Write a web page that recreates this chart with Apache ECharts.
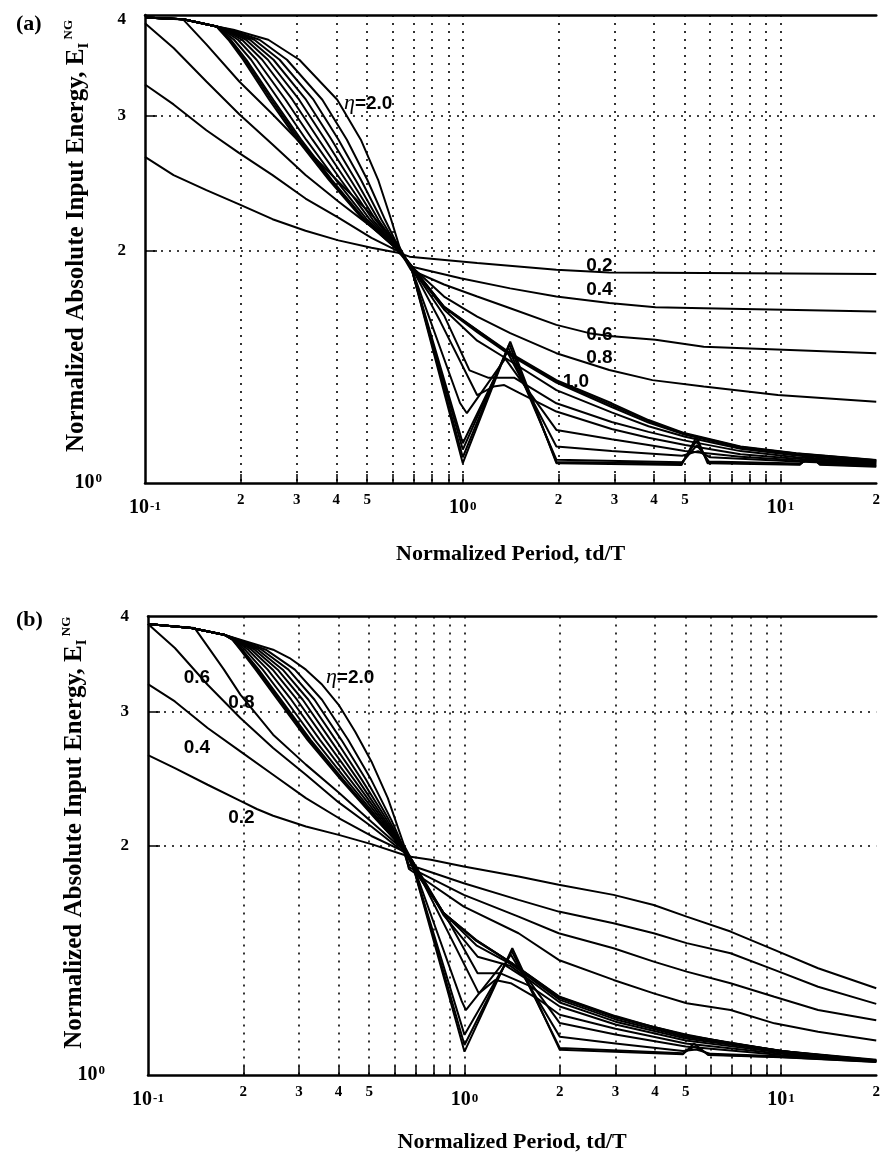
<!DOCTYPE html>
<html>
<head>
<meta charset="utf-8">
<script src="https://cdn.jsdelivr.net/npm/echarts@6/dist/echarts.min.js"></script>
<style>
  html, body { margin: 0; padding: 0; background: #fff; }
  #chart { width: 883px; height: 1158px; }
</style>
</head>
<body>
<div id="chart"></div>
<script>
// ---- axis ticks and labels ----
const xTickValues = [0.2, 0.3, 0.4, 0.5, 0.6, 0.7, 0.8, 0.9, 1, 2, 3, 4, 5, 6, 7, 8, 9, 10];
const xLabelValues = [0.1, 0.2, 0.3, 0.4, 0.5, 1, 2, 3, 4, 5, 10, 20];
const yTickValues = [2, 3];
const yLabelValues = [1, 2, 3, 4];

// ---- panel (a): normalized absolute input energy vs td/T, one curve per eta ----
const A_02 = [[0.1,2.65],[0.123,2.51],[0.156,2.40],[0.198,2.30],[0.252,2.20],[0.32,2.125],[0.406,2.065],[0.516,2.02],[0.625,1.99],[0.68,1.967],[1.11,1.93],[1.97,1.891],[2.89,1.876],[5.73,1.873],[20,1.868]];
const A_04 = [[0.1,3.29],[0.123,3.10],[0.156,2.87],[0.198,2.68],[0.252,2.51],[0.32,2.34],[0.406,2.21],[0.516,2.08],[0.625,2.00],[0.687,1.91],[0.984,1.844],[1.41,1.789],[1.97,1.746],[2.89,1.712],[4.04,1.691],[5.73,1.686],[20,1.669]];
const A_06 = [[0.1,3.95],[0.123,3.67],[0.156,3.32],[0.198,3.01],[0.252,2.75],[0.32,2.51],[0.406,2.32],[0.516,2.15],[0.625,2.02],[0.687,1.89],[0.873,1.81],[1.11,1.746],[1.41,1.686],[1.97,1.604],[2.5,1.565],[2.89,1.552],[4.04,1.534],[5.73,1.503],[20,1.474]];
const A_08 = [[0.1,4.02],[0.132,3.995],[0.156,3.71],[0.198,3.32],[0.252,3.01],[0.32,2.72],[0.406,2.46],[0.516,2.23],[0.625,2.04],[0.68,1.92],[0.873,1.746],[1.11,1.644],[1.41,1.565],[1.97,1.474],[2.89,1.402],[3.95,1.36],[5.73,1.334],[9.8,1.301],[20,1.275]];
const A_10 = [[0.1,4.02],[0.132,4.0],[0.168,3.914],[0.1713,3.876],[0.183,3.761],[0.2036,3.543],[0.246,3.144],[0.3014,2.79],[0.3789,2.475],[0.4863,2.196],[0.6389,1.99],[0.705,1.891],[0.873,1.694],[1.11,1.58],[1.41,1.474],[1.97,1.36],[2.94,1.269],[3.84,1.207],[5.01,1.16],[7.48,1.115],[11.2,1.093],[20,1.071]];
const A_11 = [[0.1,4.02],[0.132,4.0],[0.168,3.914],[0.1718,3.876],[0.1846,3.761],[0.2061,3.543],[0.2497,3.144],[0.3055,2.79],[0.383,2.475],[0.4891,2.196],[0.6389,1.99],[0.70,1.895],[0.873,1.692],[1.11,1.578],[1.41,1.47],[1.97,1.355],[2.94,1.262],[3.84,1.203],[5.01,1.158],[7.48,1.114],[11.2,1.092],[20,1.07]];
const A_12 = [[0.1,4.02],[0.132,4.0],[0.168,3.914],[0.1724,3.876],[0.1862,3.761],[0.2086,3.543],[0.2533,3.144],[0.3099,2.79],[0.3871,2.475],[0.4922,2.196],[0.6389,1.99],[0.70,1.90],[0.873,1.69],[1.11,1.57],[1.41,1.465],[1.97,1.35],[2.94,1.255],[3.84,1.198],[5.01,1.155],[7.48,1.112],[11.2,1.09],[20,1.068]];
const A_13 = [[0.1,4.02],[0.132,4.0],[0.168,3.914],[0.1738,3.876],[0.1905,3.761],[0.2157,3.543],[0.2635,3.144],[0.3215,2.79],[0.3984,2.475],[0.5001,2.196],[0.6389,1.99],[0.695,1.90],[0.873,1.68],[1.11,1.53],[1.41,1.44],[1.97,1.32],[2.94,1.235],[3.84,1.185],[5.01,1.148],[7.48,1.108],[11.2,1.086],[20,1.066]];
const A_14 = [[0.1,4.02],[0.132,4.0],[0.168,3.914],[0.1755,3.876],[0.1961,3.761],[0.2244,3.543],[0.2769,3.144],[0.3366,2.79],[0.413,2.475],[0.5106,2.196],[0.6394,1.99],[0.69,1.905],[0.873,1.65],[1.05,1.40],[1.2,1.37],[1.45,1.37],[1.97,1.269],[2.94,1.20],[3.84,1.165],[5.01,1.135],[7.48,1.10],[11.2,1.08],[20,1.064]];
const A_15 = [[0.1,4.02],[0.132,4.0],[0.168,3.914],[0.1774,3.876],[0.202,3.761],[0.2338,3.543],[0.291,3.144],[0.3524,2.79],[0.4278,2.475],[0.521,2.196],[0.6394,1.99],[0.69,1.905],[0.85,1.62],[1.11,1.30],[1.25,1.334],[1.35,1.34],[1.5,1.31],[1.97,1.238],[2.94,1.175],[3.84,1.145],[5.01,1.12],[7.48,1.09],[11.2,1.075],[20,1.062]];
const A_16 = [[0.1,4.02],[0.132,4.0],[0.168,3.914],[0.1792,3.876],[0.2079,3.761],[0.2436,3.543],[0.3055,3.144],[0.369,2.79],[0.4434,2.475],[0.5316,2.196],[0.6394,1.99],[0.687,1.908],[0.98,1.27],[1.03,1.232],[1.36,1.45],[1.97,1.172],[2.94,1.14],[3.84,1.12],[5.0,1.10],[7.48,1.082],[11.2,1.07],[20,1.059]];
const A_17 = [[0.1,4.02],[0.132,4.0],[0.168,3.914],[0.181,3.876],[0.2139,3.761],[0.2537,3.543],[0.321,3.144],[0.3866,2.79],[0.4596,2.475],[0.5423,2.196],[0.6398,1.99],[0.687,1.91],[1.0,1.126],[1.38,1.48],[1.97,1.115],[2.94,1.10],[4.9,1.085],[5.5,1.10],[6.0,1.08],[11.2,1.066],[20,1.057]];
const A_18 = [[0.1,4.02],[0.132,4.0],[0.168,3.914],[0.183,3.876],[0.2208,3.761],[0.2652,3.543],[0.339,3.144],[0.4064,2.79],[0.478,2.475],[0.5545,2.196],[0.6398,1.99],[0.687,1.91],[1.0,1.105],[1.39,1.50],[1.97,1.072],[4.9,1.064],[5.46,1.12],[5.95,1.066],[11.5,1.06],[12.4,1.076],[13.3,1.06],[20,1.054]];
const A_19 = [[0.1,4.02],[0.132,4.0],[0.168,3.914],[0.1855,3.876],[0.2293,3.761],[0.2797,3.543],[0.3614,3.144],[0.4318,2.79],[0.5005,2.475],[0.5695,2.196],[0.6398,1.99],[0.687,1.91],[1.0,1.08],[1.40,1.515],[1.97,1.065],[4.88,1.06],[5.44,1.135],[5.92,1.063],[11.5,1.058],[12.4,1.082],[13.3,1.058],[20,1.052]];
const A_20 = [[0.1,4.02],[0.132,4.0],[0.168,3.914],[0.1897,3.876],[0.2443,3.761],[0.306,3.543],[0.4027,3.144],[0.4777,2.79],[0.5415,2.475],[0.5953,2.196],[0.6403,1.99],[0.687,1.91],[1.0,1.061],[1.41,1.526],[1.97,1.061],[4.88,1.055],[5.44,1.148],[5.89,1.061],[11.5,1.056],[12.4,1.087],[13.3,1.056],[20,1.05]];

// ---- panel (b) ----
const B_02 = [[0.1,2.63],[0.1216,2.529],[0.1543,2.405],[0.1958,2.29],[0.2207,2.235],[0.2485,2.19],[0.3155,2.12],[0.4004,2.067],[0.508,2.01],[0.6675,1.936],[0.783,1.917],[0.995,1.878],[1.482,1.822],[1.985,1.777],[2.958,1.724],[3.963,1.672],[5.035,1.614],[6.93,1.543],[9.53,1.46],[13.1,1.381],[20,1.30]];
const B_04 = [[0.1,3.26],[0.1216,3.094],[0.1543,2.855],[0.1958,2.66],[0.2485,2.479],[0.3155,2.31],[0.4004,2.175],[0.508,2.06],[0.645,1.965],[0.6675,1.888],[0.995,1.786],[1.482,1.698],[1.985,1.639],[2.958,1.582],[3.963,1.535],[5.035,1.49],[6.93,1.445],[9.53,1.374],[13.1,1.306],[20,1.24]];
const B_06 = [[0.1,3.91],[0.1216,3.637],[0.1543,3.254],[0.1958,2.943],[0.2485,2.688],[0.3155,2.479],[0.4004,2.28],[0.508,2.12],[0.645,1.96],[0.6675,1.875],[0.995,1.724],[1.482,1.614],[1.985,1.535],[2.958,1.467],[3.963,1.409],[5.035,1.367],[6.93,1.32],[9.53,1.267],[13.1,1.217],[20,1.18]];
const B_08 = [[0.1,3.91],[0.1403,3.864],[0.1543,3.655],[0.1738,3.406],[0.1958,3.158],[0.2485,2.798],[0.3155,2.556],[0.4004,2.35],[0.508,2.15],[0.645,1.97],[0.6675,1.864],[0.995,1.664],[1.482,1.535],[1.985,1.416],[2.958,1.333],[3.963,1.28],[5.035,1.242],[6.93,1.217],[9.53,1.169],[13.1,1.14],[20,1.11]];
const B_10 = [[0.1,3.91],[0.137,3.864],[0.1738,3.786],[0.1847,3.73],[0.1957,3.618],[0.2188,3.406],[0.2568,3.11],[0.319,2.755],[0.4073,2.441],[0.5269,2.163],[0.6451,1.975],[0.693,1.861],[0.859,1.632],[1.09,1.504],[1.416,1.402],[2.0,1.267],[3.0,1.195],[4.0,1.155],[5.0,1.13],[7.0,1.10],[10,1.076],[14,1.056],[20,1.042]];
const B_11 = [[0.1,3.91],[0.137,3.864],[0.1738,3.786],[0.185,3.73],[0.1971,3.618],[0.2212,3.406],[0.26,3.11],[0.3227,2.755],[0.4108,2.441],[0.5292,2.163],[0.6451,1.975],[0.693,1.865],[0.859,1.632],[1.09,1.502],[1.416,1.401],[2.0,1.265],[3.0,1.192],[5.0,1.128],[10,1.075],[20,1.043]];
const B_12 = [[0.1,3.91],[0.137,3.864],[0.1738,3.786],[0.1854,3.73],[0.1985,3.618],[0.2237,3.406],[0.2633,3.11],[0.3264,2.755],[0.4143,2.441],[0.5315,2.163],[0.6451,1.975],[0.693,1.87],[0.859,1.632],[1.09,1.50],[1.416,1.40],[2.0,1.262],[3.0,1.19],[5.0,1.126],[10,1.075],[20,1.045]];
const B_13 = [[0.1,3.91],[0.137,3.864],[0.1738,3.786],[0.1863,3.73],[0.2024,3.618],[0.2304,3.406],[0.2721,3.11],[0.3363,2.755],[0.4236,2.441],[0.5372,2.163],[0.6455,1.975],[0.69,1.89],[0.86,1.63],[1.09,1.48],[1.416,1.395],[2.0,1.255],[3.0,1.183],[5.0,1.122],[10,1.075],[20,1.047]];
const B_14 = [[0.1,3.91],[0.137,3.864],[0.1738,3.786],[0.1874,3.73],[0.2073,3.618],[0.2389,3.406],[0.2836,3.11],[0.3493,2.755],[0.4356,2.441],[0.5449,2.163],[0.646,1.975],[0.685,1.91],[0.86,1.62],[1.1,1.43],[1.4,1.39],[2.0,1.245],[3.0,1.175],[5.0,1.117],[10,1.073],[20,1.046]];
const B_15 = [[0.1,3.91],[0.137,3.864],[0.1738,3.786],[0.1885,3.73],[0.2123,3.618],[0.2478,3.406],[0.2957,3.11],[0.363,2.755],[0.4483,2.441],[0.5524,2.163],[0.646,1.975],[0.68,1.92],[0.9,1.58],[1.1,1.36],[1.3,1.36],[1.6,1.31],[2.0,1.23],[3.0,1.165],[5.0,1.11],[10,1.07],[20,1.045]];
const B_16 = [[0.1,3.91],[0.137,3.864],[0.1738,3.786],[0.1896,3.73],[0.2174,3.618],[0.257,3.406],[0.3083,3.11],[0.3771,2.755],[0.4609,2.441],[0.5599,2.163],[0.646,1.975],[0.68,1.92],[1.11,1.28],[1.25,1.333],[1.4,1.32],[1.7,1.26],[2.0,1.20],[3.0,1.15],[5.0,1.10],[10,1.066],[20,1.044]];
const B_17 = [[0.1,3.91],[0.137,3.864],[0.1738,3.786],[0.1906,3.73],[0.2226,3.618],[0.2666,3.406],[0.3213,3.11],[0.3917,2.755],[0.474,2.441],[0.568,2.163],[0.646,1.975],[0.675,1.93],[0.98,1.25],[1.01,1.217],[1.32,1.40],[1.6,1.33],[2.0,1.17],[3.0,1.13],[5.0,1.09],[10,1.062],[20,1.043]];
const B_18 = [[0.1,3.91],[0.137,3.864],[0.1738,3.786],[0.1919,3.73],[0.2286,3.618],[0.2777,3.406],[0.336,3.11],[0.4082,2.755],[0.4888,2.441],[0.5768,2.163],[0.646,1.975],[0.675,1.93],[1.0,1.129],[1.40,1.44],[2.0,1.123],[3.0,1.10],[4.9,1.075],[5.4,1.08],[6.0,1.066],[10,1.058],[20,1.042]];
const B_19 = [[0.1,3.91],[0.137,3.864],[0.1738,3.786],[0.1934,3.73],[0.2357,3.618],[0.2911,3.406],[0.3546,3.11],[0.4289,2.755],[0.5074,2.441],[0.5871,2.163],[0.647,1.975],[0.676,1.93],[1.0,1.095],[1.41,1.455],[2.0,1.085],[4.9,1.068],[5.33,1.09],[5.9,1.064],[10,1.056],[20,1.041]];
const B_20 = [[0.1,3.91],[0.137,3.864],[0.1738,3.786],[0.1958,3.73],[0.2207,3.673],[0.2485,3.618],[0.2801,3.528],[0.3155,3.406],[0.3553,3.254],[0.4004,3.063],[0.4511,2.826],[0.508,2.581],[0.5725,2.31],[0.645,2.0],[0.6764,1.927],[1.0,1.073],[1.416,1.467],[2.0,1.079],[4.9,1.065],[5.31,1.10],[5.9,1.062],[10,1.055],[14,1.048],[20,1.04]];

// ---- curve annotations ----
const labelsA = [
  { text: '0.2', x: 2.69, y: 1.913 },
  { text: '0.4', x: 2.69, y: 1.781 },
  { text: '0.6', x: 2.69, y: 1.556 },
  { text: '0.8', x: 2.69, y: 1.452 },
  { text: '1.0', x: 2.27, y: 1.354 }
];
const labelsB = [
  { text: '0.6', x: 0.1427, y: 3.321 },
  { text: '0.8', x: 0.1972, y: 3.078 },
  { text: '0.4', x: 0.1427, y: 2.688 },
  { text: '0.2', x: 0.1972, y: 2.178 }
];
const etaLabelA = { x: 0.504, y: 3.11 };
const etaLabelB = { x: 0.4353, y: 3.327 };

const curvesA = [A_02, A_04, A_06, A_08, A_10, A_11, A_12, A_13, A_14, A_15, A_16, A_17, A_18, A_19, A_20];
const curvesB = [B_02, B_04, B_06, B_08, B_10, B_11, B_12, B_13, B_14, B_15, B_16, B_17, B_18, B_19, B_20];

const SERIF = 'Liberation Serif';
const SANS = 'Liberation Sans';
const INK = '#000';

function xLabelFormatter(v) {
  const e = Math.log10(v);
  const r = Math.round(e);
  if (Math.abs(e - r) < 1e-6) return '{d|10}{s|' + r + '}';
  const m = Math.round(v / Math.pow(10, Math.floor(e + 1e-9)));
  return '{m|' + m + '}';
}
function yLabelFormatter(v) {
  if (Math.abs(v - 1) < 1e-9) return '{d|10}{s|0}';
  return '{n|' + Math.round(v) + '}';
}

const xRich = {
  d: { fontFamily: SERIF, fontWeight: 'bold', fontSize: 20, lineHeight: 22, padding: [10, 0, 0, 0], color: INK },
  s: { fontFamily: SERIF, fontWeight: 'bold', fontSize: 13, lineHeight: 14, verticalAlign: 'top', padding: [8, 0, 0, 1], color: INK },
  m: { fontFamily: SERIF, fontWeight: 'bold', fontSize: 15, lineHeight: 16, color: INK }
};
const yRich = {
  d: { fontFamily: SERIF, fontWeight: 'bold', fontSize: 20, lineHeight: 22, color: INK },
  s: { fontFamily: SERIF, fontWeight: 'bold', fontSize: 13, lineHeight: 14, verticalAlign: 'top', padding: [0, 24, 0, 1], color: INK },
  n: { fontFamily: SERIF, fontWeight: 'bold', fontSize: 17, color: INK }
};
const dotted = { type: [2, 6], width: 1.6, color: INK };

function bottomAxis(grid, gap) {
  return {
    type: 'log', logBase: 10, gridIndex: grid, min: 0.1, max: 20, position: 'bottom',
    name: 'Normalized Period, td/T', nameLocation: 'middle', nameGap: gap, nameMoveOverlap: false,
    nameTextStyle: { fontFamily: SERIF, fontWeight: 'bold', fontSize: 22, color: INK },
    axisLine: { show: true, onZero: false, lineStyle: { color: INK, width: 2.5 } },
    axisTick: { show: true, inside: true, length: 9, customValues: xTickValues, lineStyle: { color: INK, width: 1.5 } },
    axisLabel: { show: true, margin: 9, customValues: xLabelValues, formatter: xLabelFormatter, rich: xRich },
    splitLine: { show: true, lineStyle: dotted },
    minorTick: { show: false }, minorSplitLine: { show: false }
  };
}
function topAxis(grid) {
  return {
    type: 'log', logBase: 10, gridIndex: grid, min: 0.1, max: 20, position: 'top',
    axisLine: { show: true, onZero: false, lineStyle: { color: INK, width: 2.5 } },
    axisTick: { show: false }, axisLabel: { show: false }, splitLine: { show: false }
  };
}
function leftAxis(grid, max, gap) {
  return {
    type: 'log', logBase: 10, gridIndex: grid, min: 1, max: max,
    name: '{t|Normalized Absolute Input Energy, E}{sb|I}{sp| NG}',
    nameLocation: 'middle', nameGap: gap, nameMoveOverlap: false,
    nameTextStyle: {
      rich: {
        t: { fontFamily: SERIF, fontWeight: 'bold', fontSize: 25, lineHeight: 30, padding: [0, 0, 0, 26], color: INK },
        sb: { fontFamily: SERIF, fontWeight: 'bold', fontSize: 15, lineHeight: 15, verticalAlign: 'bottom', color: INK },
        sp: { fontFamily: SERIF, fontWeight: 'bold', fontSize: 13, lineHeight: 13, verticalAlign: 'top', color: INK }
      }
    },
    axisLine: { show: true, onZero: false, lineStyle: { color: INK, width: 2.5 } },
    axisTick: { show: true, inside: true, length: 12, customValues: yTickValues, lineStyle: { color: INK, width: 1.5 } },
    axisLabel: { show: true, margin: 19, customValues: yLabelValues, formatter: yLabelFormatter, rich: yRich },
    splitLine: { show: true, lineStyle: dotted },
    minorTick: { show: false }, minorSplitLine: { show: false }
  };
}

function curveSeries(data, xi, yi) {
  return {
    type: 'line', xAxisIndex: xi, yAxisIndex: yi, data: data,
    symbol: 'none', showSymbol: false, smooth: false, silent: true,
    lineStyle: { color: INK, width: 2 }, z: 3
  };
}
// Text annotations placed at data coordinates through the cartesian system
function labelSeries(list, eta, xi, yi) {
  const items = list.map(l => ({ x: l.x, y: l.y, text: l.text }));
  items.push({ x: eta.x, y: eta.y, text: '{g|\u03B7}{t|=2.0}' });
  return {
    type: 'custom', coordinateSystem: 'cartesian2d', xAxisIndex: xi, yAxisIndex: yi,
    silent: true, z: 6,
    data: items.map(it => [it.x, it.y]),
    renderItem: function (params, api) {
      const it = items[params.dataIndex];
      const p = api.coord([api.value(0), api.value(1)]);
      return {
        type: 'text', x: p[0], y: p[1],
        style: {
          text: it.text, fill: INK, opacity: 1,
          fontFamily: SANS, fontWeight: 'bold', fontSize: 19,
          align: 'center', verticalAlign: 'middle',
          rich: {
            g: { fontFamily: SERIF, fontStyle: 'italic', fontSize: 22, fill: INK },
            t: { fontFamily: SANS, fontWeight: 'bold', fontSize: 19, fill: INK }
          }
        }
      };
    }
  };
}

const series = [];
curvesA.forEach(d => series.push(curveSeries(d, 0, 0)));
curvesB.forEach(d => series.push(curveSeries(d, 2, 1)));
series.push(labelSeries(labelsA, etaLabelA, 0, 0));
series.push(labelSeries(labelsB, etaLabelB, 2, 1));

const chart = echarts.init(document.getElementById('chart'), null, { renderer: 'canvas' });
chart.setOption({
  backgroundColor: '#fff',
  animation: false,
  title: [
    { text: '(a)', left: 11, top: 8, textStyle: { fontFamily: SERIF, fontWeight: 'bold', fontSize: 22, color: INK } },
    { text: '(b)', left: 11, top: 604, textStyle: { fontFamily: SERIF, fontWeight: 'bold', fontSize: 22, color: INK } }
  ],
  grid: [
    { left: 145, top: 15, width: 739, height: 468, containLabel: false },
    { left: 148, top: 616.5, width: 739, height: 458.5, containLabel: false }
  ],
  xAxis: [bottomAxis(0, 60), topAxis(0), bottomAxis(1, 56), topAxis(1)],
  yAxis: [leftAxis(0, 4.05, 53), leftAxis(1, 4, 58)],
  series: series
});
</script>
</body>
</html>
